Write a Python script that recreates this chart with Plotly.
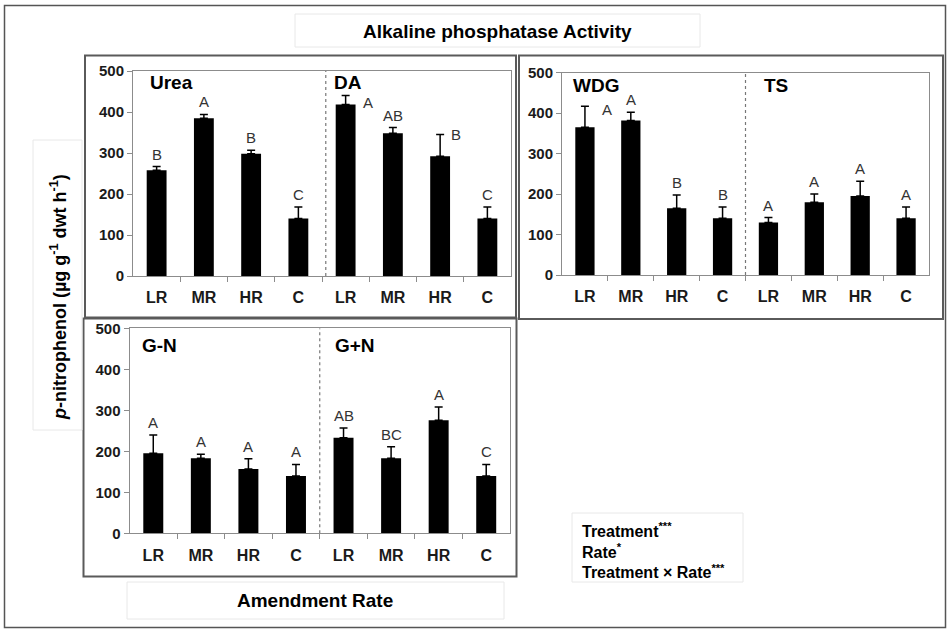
import plotly.graph_objects as go

# ---------------- data ----------------
rates = ["LR", "MR", "HR", "C"]

urea = [258, 385, 298, 140]
urea_err = [9, 9, 9, 28]
urea_let = ["B", "A", "B", "C"]

da = [418, 348, 292, 140]
da_err = [22, 14, 53, 28]
da_let = ["A", "AB", "B", "C"]

wdg = [365, 382, 165, 140]
wdg_err = [52, 20, 33, 28]
wdg_let = ["A", "A", "B", "B"]

ts = [130, 180, 195, 140]
ts_err = [12, 20, 37, 28]
ts_let = ["A", "A", "A", "A"]

gn = [195, 183, 157, 140]
gn_err = [45, 10, 25, 28]
gn_let = ["A", "A", "A", "A"]

gpn = [233, 183, 276, 140]
gpn_err = [24, 28, 32, 28]
gpn_let = ["AB", "BC", "A", "C"]

y_ticks = [0, 100, 200, 300, 400, 500]

# ---------------- layout helpers ----------------
W, H = 952, 630
FONT = "Liberation Sans, Arial, sans-serif"


def px(x):
    return x / W


def py(y):
    return 1 - y / H


panels = [
    dict(vals=urea + da, errs=urea_err + da_err, lets=urea_let + da_let,
         names=("Urea", "DA"), rect=(133, 511, 71, 276), nx=(0.04, 0.527), ny=0.946,
         side={4: (0.48, 7), 6: (0.34, 0)}, divider=3.58),
    dict(vals=wdg + ts, errs=wdg_err + ts_err, lets=wdg_let + ts_let,
         names=("WDG", "TS"), rect=(562, 929, 72.7, 275), nx=(0.024, 0.544), ny=0.939,
         side={0: (0.47, 3)}, divider=3.5),
    dict(vals=gn + gpn, errs=gn_err + gpn_err, lets=gn_let + gpn_let,
         names=("G-N", "G+N"), rect=(129.5, 510, 328.3, 533.3), nx=(0.028, 0.536), ny=0.918,
         side={}, divider=3.5),
]

fig = go.Figure()
annotations = []
shapes = []

for k, p in enumerate(panels):
    sfx = "" if k == 0 else str(k + 1)
    xs = list(range(8))
    fig.add_trace(go.Bar(
        x=xs, y=p["vals"], xaxis="x" + sfx, yaxis="y" + sfx,
        marker=dict(color="black", line=dict(color="black", width=0)),
        error_y=dict(type="data", array=p["errs"], arrayminus=[0] * 8, symmetric=False,
                     color="black", thickness=1.5, width=4),
        showlegend=False, hoverinfo="skip",
    ))
    x0, x1, y0, y1 = p["rect"]
    axis_common = dict(showline=True, linecolor="#8c8c8c", linewidth=1, mirror=True,
                       showgrid=False, zeroline=False, automargin=False)
    fig.layout["xaxis" + sfx] = dict(
        domain=[px(x0), px(x1)], anchor="y" + sfx, range=[-0.5, 7.5],
        tickvals=xs, ticktext=rates + rates, ticks="",
        tickfont=dict(family=FONT, size=16, color="#1a1a1a", weight="bold"),
        ticklabelstandoff=7,
        minor=dict(ticks="outside", tickmode="array", tickvals=[i + 0.5 for i in range(7)],
                   ticklen=5, tickcolor="#8c8c8c", showgrid=False),
        **axis_common)
    fig.layout["yaxis" + sfx] = dict(
        domain=[py(y1), py(y0)], anchor="x" + sfx, range=[0, 500],
        tickvals=y_ticks, ticks="outside", ticklen=5, tickcolor="#8c8c8c",
        tickfont=dict(family=FONT, size=15, color="#1a1a1a", weight="bold"),
        **axis_common)
    shapes.append(dict(type="line", xref="x" + sfx, yref="y" + sfx,
                       x0=p["divider"], x1=p["divider"], y0=0, y1=500,
                       line=dict(color="#777777", width=1.2, dash="dot")))
    for nm, nxv in zip(p["names"], p["nx"]):
        annotations.append(dict(xref="x" + sfx + " domain", yref="y" + sfx + " domain",
                                x=nxv, y=p["ny"], text="<b>" + nm + "</b>", showarrow=False,
                                xanchor="left", yanchor="middle",
                                font=dict(family=FONT, size=19, color="black")))
    for i, (v, e, t) in enumerate(zip(p["vals"], p["errs"], p["lets"])):
        if i in p["side"]:
            dx, dy = p["side"][i]
            annotations.append(dict(xref="x" + sfx, yref="y" + sfx, x=i + dx, y=v + e,
                                    text=t, showarrow=False, xanchor="center", yanchor="middle",
                                    yshift=-dy, font=dict(family=FONT, size=15, color="#333333")))
        else:
            annotations.append(dict(xref="x" + sfx, yref="y" + sfx, x=i, y=v + e,
                                    text=t, showarrow=False, xanchor="center", yanchor="bottom",
                                    yshift=2, font=dict(family=FONT, size=15, color="#333333")))


def rect(xa, ya, xb, yb, color, width):
    shapes.append(dict(type="rect", xref="paper", yref="paper",
                       x0=px(xa), x1=px(xb), y0=py(yb), y1=py(ya),
                       line=dict(color=color, width=width), fillcolor="rgba(0,0,0,0)",
                       layer="below"))


rect(4.5, 5.5, 945.5, 627.5, "#555555", 1.5)
rect(85, 55.5, 516, 317.5, "#5a5a5a", 2)
rect(519, 55.5, 943, 319, "#5a5a5a", 2)
rect(83.5, 318.5, 516.5, 576.5, "#5a5a5a", 2)
rect(295, 14, 700, 47, "#e8e8e8", 1)
rect(33, 140, 82, 430, "#e8e8e8", 1)
rect(127, 582, 504, 619, "#e8e8e8", 1)
rect(572, 513, 743, 582, "#e8e8e8", 1)

annotations.append(dict(xref="paper", yref="paper", x=px(497), y=py(31),
                        text="<b>Alkaline phosphatase Activity</b>", showarrow=False,
                        xanchor="center", yanchor="middle",
                        font=dict(family=FONT, size=19, color="black")))
annotations.append(dict(xref="paper", yref="paper", x=px(315), y=py(600),
                        text="<b>Amendment Rate</b>", showarrow=False,
                        xanchor="center", yanchor="middle",
                        font=dict(family=FONT, size=19, color="black")))
annotations.append(dict(xref="paper", yref="paper", x=px(58), y=py(297),
                        text="<b><i>p</i>-nitrophenol (µg g<sup>-1</sup>&nbsp;dwt h<sup>-1</sup>)</b>",
                        showarrow=False, textangle=-90, xanchor="center", yanchor="middle",
                        font=dict(family=FONT, size=18, color="black")))
annotations.append(dict(xref="paper", yref="paper", x=px(580), y=py(550),
                        text="<b>Treatment<sup>***</sup><br>Rate<sup>*</sup><br>Treatment × Rate<sup>***</sup></b>",
                        showarrow=False, align="left", xanchor="left", yanchor="middle",
                        font=dict(family=FONT, size=16, color="black")))

fig.update_layout(
    width=W, height=H, margin=dict(l=0, r=0, t=0, b=0, pad=0, autoexpand=False),
    paper_bgcolor="white", plot_bgcolor="white",
    bargap=0.58, annotations=annotations, shapes=shapes,
    font=dict(family=FONT),
)

pin_js = (
    "document.documentElement.style.margin='0px';"
    "document.documentElement.style.padding='0px';"
    "document.body.style.margin='0px';"
    "document.body.style.padding='0px';"
    "var gds=document.getElementsByClassName('plotly-graph-div');"
    "for(var i=0;i<gds.length;i++){gds[i].style.position='fixed';gds[i].style.left='0px';gds[i].style.top='0px';}"
    "document.body.style.overflow='hidden';"
    "document.documentElement.style.overflow='hidden';"
)

fig.write_html("out.html", config={"displayModeBar": False}, post_script=pin_js)
